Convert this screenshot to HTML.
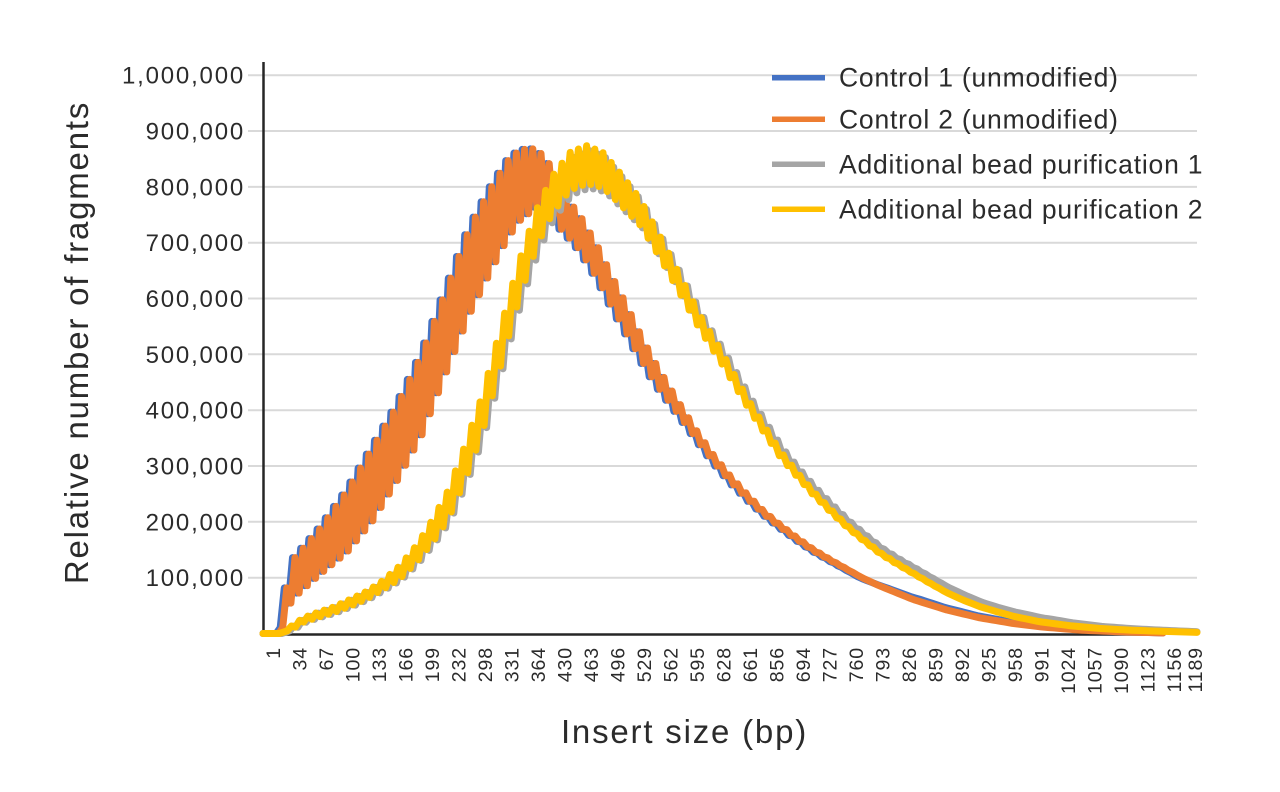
<!DOCTYPE html>
<html>
<head>
<meta charset="utf-8">
<style>
  html,body{margin:0;padding:0;background:#ffffff;}
  svg{display:block;}
  text{font-family:"Liberation Sans", Arial, sans-serif;fill:#2b2b2b;}
  .yt{font-size:24px;letter-spacing:1.8px;}
  .xt{font-size:19.5px;letter-spacing:0.9px;}
  .lg{font-size:26.5px;letter-spacing:0.8px;}
  .ti{font-size:33px;letter-spacing:1.8px;}
</style>
</head>
<body>
<svg id="chart" width="1280" height="792" viewBox="0 0 1280 792" xmlns="http://www.w3.org/2000/svg">
  <rect x="0" y="0" width="1280" height="792" fill="#ffffff"/>
  <!-- gridlines -->
  <g stroke="#d9d9d9" stroke-width="2">
    <line x1="248" y1="577.7" x2="1197" y2="577.7"/>
    <line x1="248" y1="521.8" x2="1197" y2="521.8"/>
    <line x1="248" y1="466.0" x2="1197" y2="466.0"/>
    <line x1="248" y1="410.2" x2="1197" y2="410.2"/>
    <line x1="248" y1="354.3" x2="1197" y2="354.3"/>
    <line x1="248" y1="298.5" x2="1197" y2="298.5"/>
    <line x1="248" y1="242.7" x2="1197" y2="242.7"/>
    <line x1="248" y1="186.9" x2="1197" y2="186.9"/>
    <line x1="248" y1="131.0" x2="1197" y2="131.0"/>
    <line x1="248" y1="75.2" x2="1197" y2="75.2"/>
  </g>
  <!-- axes -->
  <line x1="263.5" y1="62" x2="263.5" y2="635.5" stroke="#262626" stroke-width="2.5"/>
  <line x1="262" y1="634.5" x2="1163" y2="634.5" stroke="#262626" stroke-width="2.5"/>

  <!-- y tick labels -->
  <g class="yt" text-anchor="end">
    <text x="245" y="586.2">100,000</text>
    <text x="245" y="530.3">200,000</text>
    <text x="245" y="474.5">300,000</text>
    <text x="245" y="418.7">400,000</text>
    <text x="245" y="362.8">500,000</text>
    <text x="245" y="307.0">600,000</text>
    <text x="245" y="251.2">700,000</text>
    <text x="245" y="195.4">800,000</text>
    <text x="245" y="139.5">900,000</text>
    <text x="245" y="83.7">1,000,000</text>
  </g>

  <!-- series -->
  <g id="series" fill="none" stroke-width="7" stroke-linejoin="round" stroke-linecap="round">
    <path id="sBlue" stroke="#4472C4" d=""/>
    <path id="sOrange" stroke="#ED7D31" d=""/>
    <path id="sGray" stroke="#A5A5A5" d=""/>
    <path id="sYellow" stroke="#FFC000" d=""/>
  </g>

  <!-- x tick labels -->
  <g class="xt" text-anchor="end">
    <text transform="translate(279.8,647) rotate(-90)">1</text>
    <text transform="translate(306.3,647) rotate(-90)">34</text>
    <text transform="translate(332.8,647) rotate(-90)">67</text>
    <text transform="translate(359.3,647) rotate(-90)">100</text>
    <text transform="translate(385.8,647) rotate(-90)">133</text>
    <text transform="translate(412.3,647) rotate(-90)">166</text>
    <text transform="translate(438.8,647) rotate(-90)">199</text>
    <text transform="translate(465.3,647) rotate(-90)">232</text>
    <text transform="translate(491.8,647) rotate(-90)">298</text>
    <text transform="translate(518.3,647) rotate(-90)">331</text>
    <text transform="translate(544.8,647) rotate(-90)">364</text>
    <text transform="translate(571.3,647) rotate(-90)">430</text>
    <text transform="translate(597.8,647) rotate(-90)">463</text>
    <text transform="translate(624.3,647) rotate(-90)">496</text>
    <text transform="translate(650.8,647) rotate(-90)">529</text>
    <text transform="translate(677.3,647) rotate(-90)">562</text>
    <text transform="translate(703.8,647) rotate(-90)">595</text>
    <text transform="translate(730.3,647) rotate(-90)">628</text>
    <text transform="translate(756.8,647) rotate(-90)">661</text>
    <text transform="translate(783.3,647) rotate(-90)">856</text>
    <text transform="translate(809.8,647) rotate(-90)">694</text>
    <text transform="translate(836.3,647) rotate(-90)">727</text>
    <text transform="translate(862.8,647) rotate(-90)">760</text>
    <text transform="translate(889.3,647) rotate(-90)">793</text>
    <text transform="translate(915.8,647) rotate(-90)">826</text>
    <text transform="translate(942.3,647) rotate(-90)">859</text>
    <text transform="translate(968.8,647) rotate(-90)">892</text>
    <text transform="translate(995.3,647) rotate(-90)">925</text>
    <text transform="translate(1021.8,647) rotate(-90)">958</text>
    <text transform="translate(1048.3,647) rotate(-90)">991</text>
    <text transform="translate(1074.8,647) rotate(-90)">1024</text>
    <text transform="translate(1101.3,647) rotate(-90)">1057</text>
    <text transform="translate(1127.8,647) rotate(-90)">1090</text>
    <text transform="translate(1154.3,647) rotate(-90)">1123</text>
    <text transform="translate(1180.8,647) rotate(-90)">1156</text>
    <text transform="translate(1201.8,647) rotate(-90)">1189</text>
  </g>

  <!-- axis titles -->
  <text class="ti" text-anchor="middle" transform="translate(88,342.5) rotate(-90)">Relative number of fragments</text>
  <text class="ti" text-anchor="middle" x="684.5" y="743">Insert size (bp)</text>

  <!-- legend -->
  <g stroke-width="5.5">
    <line x1="772" y1="77.7" x2="825" y2="77.7" stroke="#4472C4"/>
    <line x1="772" y1="119.3" x2="825" y2="119.3" stroke="#ED7D31"/>
    <line x1="772" y1="164.3" x2="825" y2="164.3" stroke="#A5A5A5"/>
    <line x1="772" y1="209.3" x2="825" y2="209.3" stroke="#FFC000"/>
  </g>
  <g class="lg">
    <text x="839" y="86.7">Control 1 (unmodified)</text>
    <text x="839" y="128.3">Control 2 (unmodified)</text>
    <text x="839" y="173.3">Additional bead purification 1</text>
    <text x="839" y="218.3">Additional bead purification 2</text>
  </g>
</svg>
<script>
(function(){
  var Y = function(v){ return 633.5 - v*0.5583; };
  function lerp(t, x){
    if (x <= t[0][0]) return t[0][1];
    for (var i=1;i<t.length;i++){
      if (x <= t[i][0]){
        var x0=t[i-1][0], y0=t[i-1][1], x1=t[i][0], y1=t[i][1];
        return y0 + (y1-y0)*(x-x0)/(x1-x0);
      }
    }
    return t[t.length-1][1];
  }
  var oM=[[263,0],[281,0],[285,45],[292,95],[300,110],[320,147],[347,200],[373,268],[397,340],[422,428],[445,535],[470,650],[490,720],[507,775],[520,803],[537,816],[550,800],[560,762],[570,740],[580,718],[590,688],[600,657],[610,620],[627,562],[643,506],[657,462],[680,400],[697,355],[713,315],[730,278],[747,246],[763,218],[780,193],[797,170],[813,150],[830,132],[847,115],[863,99],[880,85],[913,61],[947,42],[980,28],[1013,18],[1040,12],[1080,6],[1120,3],[1163,1]];
  var oD=[[263,0],[281,0],[285,40],[292,70],[300,72],[320,82],[347,110],[373,132],[397,135],[422,145],[445,148],[470,155],[490,150],[507,140],[520,127],[537,105],[550,80],[560,70],[570,65],[590,60],[610,55],[627,50],[643,42],[657,35],[680,22],[697,15],[713,12],[730,10],[747,8],[763,6],[780,5],[800,4],[830,2],[860,0]];
  var yM=[[263,0],[281,0],[293,12],[303,24],[317,33],[333,42],[350,55],[367,69],[383,87],[400,110],[417,144],[433,185],[448,230],[465,306],[482,392],[497,490],[513,595],[523,655],[537,728],[552,785],[570,828],[587,840],[603,830],[620,797],[640,755],[660,692],[680,625],[700,557],[723,490],[737,446],[750,406],[763,369],[780,322],[797,285],[813,252],[830,221],[847,192],[863,168],[880,144],[897,125],[913,108],[930,90],[947,73],[963,60],[980,48],[997,39],[1013,31],[1040,21],[1070,14],[1100,9],[1130,6],[1160,4],[1197,2]];
  var yD=[[263,0],[283,0],[293,7],[330,10],[380,15],[420,32],[448,52],[470,65],[500,68],[540,66],[587,68],[620,56],[650,42],[700,26],[750,15],[800,8],[850,4],[900,2],[950,0]];
  var bMult=[[263,1],[860,1],[920,1.1],[1000,1.15],[1163,1.15]];
  var gMult=[[263,0.99],[620,0.99],[700,1.0],[800,1.02],[900,1.06],[1000,1.18],[1050,1.35],[1197,1.5]];
  var one=[[0,1],[2000,1]];
  function build(M, D, tip, x0, x1, shift, mult){
    var P=8.2, h=P/2, pts=[];
    function val(x,s){
      var xs=x+shift;
      var v=(lerp(M,xs)+s*lerp(D,xs))*lerp(mult,x);
      return v<0?0:v;
    }
    pts.push([x0,val(x0,0)]);
    var k0=Math.floor((x0-tip)/h)-1;
    for (var k=k0;;k++){
      var x=tip+k*h;
      if (x>=x1) break;
      if (x<=x0) continue;
      var s=(Math.abs(k)%2===0)?0.5:-0.5;
      pts.push([x,val(x,s)]);
    }
    pts.push([x1,val(x1,0)]);
    var d='';
    for (var i=0;i<pts.length;i++){
      d+=(i===0?'M':'L')+pts[i][0].toFixed(2)+','+Y(pts[i][1]).toFixed(2);
    }
    return d;
  }
  document.getElementById('sBlue').setAttribute('d', build(oM,oD,295-2.5,263,1163,2.5,bMult));
  document.getElementById('sOrange').setAttribute('d', build(oM,oD,295,263,1163,0,one));
  document.getElementById('sGray').setAttribute('d', build(yM,yD,398+2.5,263,1197,-2.5,gMult));
  document.getElementById('sYellow').setAttribute('d', build(yM,yD,398,263,1197,0,one));
})();
</script>
</body>
</html>
